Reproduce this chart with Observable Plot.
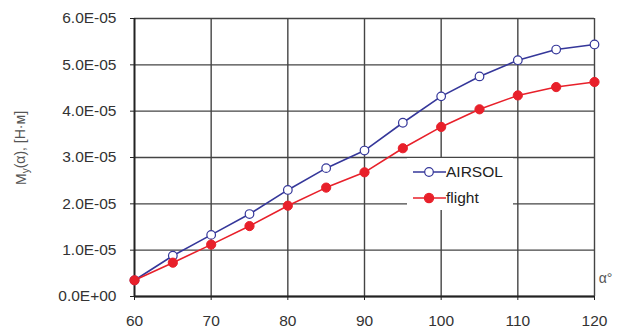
<!DOCTYPE html>
<html>
<head>
<meta charset="utf-8">
<script src="https://cdn.jsdelivr.net/npm/d3@7"></script>
<script src="https://cdn.jsdelivr.net/npm/@observablehq/plot@0.6"></script>
<style>
  html, body { margin: 0; padding: 0; background: #fff; }
  #chart svg { display: block; }
</style>
</head>
<body>
<div id="chart"></div>
<script>
const alpha = [60, 65, 70, 75, 80, 85, 90, 95, 100, 105, 110, 115, 120];
const airsol = [0.35e-5, 0.88e-5, 1.33e-5, 1.78e-5, 2.30e-5, 2.77e-5, 3.15e-5, 3.75e-5, 4.32e-5, 4.75e-5, 5.10e-5, 5.33e-5, 5.44e-5];
const flight = [0.35e-5, 0.73e-5, 1.12e-5, 1.52e-5, 1.96e-5, 2.35e-5, 2.68e-5, 3.20e-5, 3.66e-5, 4.04e-5, 4.34e-5, 4.52e-5, 4.63e-5];
const xTicks = [60, 70, 80, 90, 100, 110, 120];
const yTicks = [0, 1e-5, 2e-5, 3e-5, 4e-5, 5e-5, 6e-5];
const seriesNames = ["AIRSOL", "flight"];

const blue = "#35379a";
const red = "#e8202a";

const dataA = alpha.map((a, i) => ({a, v: airsol[i]}));
const dataF = alpha.map((a, i) => ({a, v: flight[i]}));

function fmtE(d) {
  if (d === 0) return "0.0E+00";
  const [m, e] = d.toExponential(1).split("e");
  const n = Math.abs(+e);
  return m + "E" + (+e < 0 ? "-" : "+") + String(n).padStart(2, "0");
}

const font = "'Liberation Sans', Arial, sans-serif";

const chart = Plot.plot({
  width: 624,
  height: 329,
  marginLeft: 134,
  marginRight: 30,
  marginTop: 18,
  marginBottom: 33,
  style: {fontFamily: font, fontSize: "15px", color: "#333", background: "#fff"},
  x: {domain: [60, 120]},
  y: {domain: [0, 6e-5]},
  marks: [
    Plot.gridY(yTicks, {stroke: "#444", strokeOpacity: 1, strokeWidth: 1.4}),
    Plot.gridX(xTicks.slice(1), {stroke: "#444", strokeOpacity: 1, strokeWidth: 1.4}),
    Plot.axisY(yTicks, {tickFormat: fmtE, tickSize: 4, tickPadding: 14, label: null, stroke: "#222", fontSize: 15.5}),
    Plot.axisX(xTicks, {tickSize: 4, tickPadding: 14, label: null, stroke: "#222", fontSize: 15.5}),
    Plot.ruleX([60], {stroke: "#222", strokeWidth: 2}),
    Plot.ruleY([0], {stroke: "#222", strokeWidth: 2}),
    Plot.line(dataA, {x: "a", y: "v", stroke: blue, strokeWidth: 1.6}),
    Plot.line(dataF, {x: "a", y: "v", stroke: red, strokeWidth: 1.6}),
    Plot.dot(dataA, {x: "a", y: "v", r: 4.3, fill: "#fff", stroke: blue, strokeWidth: 1.2}),
    Plot.dot(dataF, {x: "a", y: "v", r: 4.6, fill: red, stroke: red, strokeWidth: 1}),
    Plot.text(["α°"], {frameAnchor: "bottom-right", dx: 11, dy: -14, textAnchor: "middle", fontSize: 14, fill: "#555"})
  ]
});

document.getElementById("chart").appendChild(chart);

const svg = d3.select(chart);

// Legend box
const lg = svg.append("g").attr("font-family", font).attr("font-size", 15.5).attr("text-anchor", "start");
lg.append("rect").attr("x", 407).attr("y", 158).attr("width", 106).attr("height", 52).attr("fill", "#fff");
const items = [
  {name: seriesNames[0], color: blue, fill: "#fff", r: 4.3, y: 172},
  {name: seriesNames[1], color: red, fill: red, r: 4.6, y: 198}
];
items.forEach(it => {
  lg.append("line").attr("x1", 413).attr("x2", 446).attr("y1", it.y).attr("y2", it.y)
    .attr("stroke", it.color).attr("stroke-width", 1.6);
  lg.append("circle").attr("cx", 429).attr("cy", it.y).attr("r", it.r)
    .attr("fill", it.fill).attr("stroke", it.color).attr("stroke-width", 1.2);
  lg.append("text").attr("x", 446).attr("y", it.y).attr("dy", "0.35em")
    .attr("text-anchor", "start").attr("fill", "#222").text(it.name);
});

// Y axis label with subscript
const yl = svg.append("text")
  .attr("transform", "translate(21,148) rotate(-90)")
  .attr("text-anchor", "middle")
  .attr("dy", "0.35em")
  .attr("font-family", font)
  .attr("font-size", 14)
  .attr("fill", "#555");
yl.append("tspan").text("M");
yl.append("tspan").attr("font-size", 10).attr("dy", "0.3em").text("y");
yl.append("tspan").attr("dy", "-0.3em").text("(α), [Н·м]");
</script>
</body>
</html>
